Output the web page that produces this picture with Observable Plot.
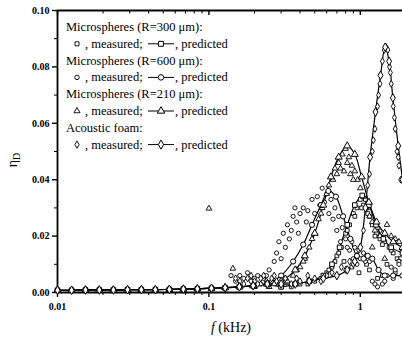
<!DOCTYPE html>
<html><head><meta charset="utf-8">
<script src="https://cdn.jsdelivr.net/npm/d3@7"></script>
<script src="https://cdn.jsdelivr.net/npm/@observablehq/plot@0.6"></script>
<style>body{margin:0;background:#fff} svg{display:block}</style>
</head><body><div id="chart"></div>
<script>
// ---- tick values / labels ----
const xTicks = [0.01, 0.1, 1];
const xTickLabels = ["0.01", "0.1", "1"];
const xMinor = [0.02,0.03,0.04,0.05,0.06,0.07,0.08,0.09,0.2,0.3,0.4,0.5,0.6,0.7,0.8,0.9];
const yTicks = [0, 0.02, 0.04, 0.06, 0.08, 0.10];
const yTickLabels = ["0.00","0.02","0.04","0.06","0.08","0.10"];
const yMinor = [0.01, 0.03, 0.05, 0.07, 0.09];

// ---- legend texts ----
const seriesTitles = ["Microspheres (R=300 \u03bcm):", "Microspheres (R=600 \u03bcm):", "Microspheres (R=210 \u03bcm):", "Acoustic foam:"];
const seriesSymbols = ["square", "circle", "triangle", "diamond"];

// ---- predicted curves (f in kHz, eta) ----
const lowF   = [0.01,0.0124,0.0153,0.0189,0.0234,0.029,0.0358,0.0443,0.0548,0.0678,0.0839,0.104,0.128,0.159,0.196,0.243];
const lowEta = [0.0008,0.0008,0.0009,0.0009,0.0009,0.001,0.001,0.001,0.0011,0.0012,0.0013,0.0015,0.0017,0.002,0.0024,0.003];

const predSquareF   = [0.30,0.372,0.46,0.57,0.65,0.73,0.82,0.92,1.03,1.14,1.27,1.42,1.6,1.9];
const predSquareEta = [0.002,0.003,0.004,0.006,0.010,0.016,0.024,0.031,0.0344,0.031,0.024,0.019,0.016,0.014];

const predCircleF   = [0.30,0.36,0.42,0.48,0.55,0.615,0.69,0.77,0.86,0.95,1.05,1.12,1.2,1.32,1.45,1.65,1.9];
const predCircleEta = [0.006,0.011,0.017,0.024,0.031,0.036,0.034,0.027,0.019,0.013,0.012,0.013,0.012,0.008,0.006,0.006,0.006];

const predTriF   = [0.30,0.372,0.43,0.50,0.57,0.64,0.72,0.82,0.92,1.02,1.14,1.28,1.45,1.65,1.9];
const predTriEta = [0.004,0.008,0.013,0.021,0.031,0.041,0.048,0.052,0.049,0.041,0.032,0.025,0.021,0.018,0.016];

const predFoamF   = [0.30,0.372,0.46,0.57,0.70,0.82,0.92,1.0,1.08,1.16,1.26,1.36,1.46,1.55,1.64,1.78,1.9];
const predFoamEta = [0.003,0.003,0.004,0.005,0.006,0.008,0.011,0.016,0.030,0.048,0.064,0.077,0.087,0.082,0.069,0.052,0.040];

// ---- measured points [f, eta] ----
const measSquare = [[0.3,0.002],[0.35,0.002],[0.4,0.003],[0.45,0.003],[0.5,0.004],[0.55,0.005],[0.6,0.007],[0.65,0.009],[0.7,0.013],[0.75,0.016],[0.8,0.021],[0.85,0.024],[0.9,0.028],[0.95,0.030],[1.0,0.033],[1.05,0.031],[1.1,0.030],[1.15,0.027],[1.2,0.024],[1.28,0.021],[1.35,0.019],[1.45,0.018],[1.55,0.016],[1.65,0.014],[1.75,0.012],[1.85,0.012],[1.15,0.008],[1.3,0.005],[1.5,0.010],[1.7,0.007],[0.78,0.011],[0.88,0.009],[0.98,0.007],
  [0.62,0.008],[0.68,0.011],[0.72,0.014],[0.82,0.022],[0.92,0.027],[1.02,0.030],[1.08,0.033],[1.12,0.028],[1.25,0.020],[1.4,0.017],[1.6,0.015],[1.8,0.011],[1.1,0.010],[1.4,0.006]];
const measCircle = [[0.15,0.004],[0.17,0.005],[0.19,0.004],[0.21,0.006],[0.23,0.005],[0.25,0.008],[0.27,0.011],[0.28,0.014],[0.29,0.018],[0.30,0.012],[0.31,0.021],[0.32,0.016],[0.33,0.024],[0.35,0.022],[0.36,0.027],[0.38,0.025],[0.40,0.028],[0.42,0.030],[0.45,0.029],[0.48,0.033],[0.52,0.034],[0.56,0.037],[0.60,0.035],[0.64,0.033],[0.68,0.030],[0.72,0.027],[0.76,0.023],[0.80,0.019],[0.85,0.015],[0.90,0.012],[0.95,0.010],[1.0,0.012],[1.05,0.014],[1.1,0.013],[1.15,0.011],[1.2,0.004],[1.3,0.002],[1.4,0.003],[1.5,0.006],[1.6,0.009],[1.7,0.008],[1.8,0.010],
  [0.14,0.006],[0.16,0.006],[0.18,0.007],[0.2,0.005],[0.22,0.003],[0.24,0.006],[0.26,0.004],[0.34,0.019],[0.37,0.030],[0.39,0.021],[0.44,0.025],[0.5,0.028],[0.54,0.031],[0.58,0.032],[0.62,0.028],[0.66,0.026],[0.7,0.022],[0.74,0.018],[0.82,0.016],[0.88,0.018],[0.92,0.016],[0.98,0.015],[1.08,0.011],[1.25,0.003],[1.45,0.004],[1.65,0.005]];
const measTri = [[0.1,0.0298],[0.144,0.0085],[0.2,0.002],[0.25,0.002],[0.3,0.003],[0.33,0.004],[0.36,0.006],[0.4,0.009],[0.43,0.012],[0.46,0.016],[0.5,0.021],[0.53,0.026],[0.56,0.030],[0.6,0.035],[0.64,0.041],[0.68,0.044],[0.72,0.046],[0.76,0.049],[0.8,0.051],[0.84,0.048],[0.88,0.045],[0.92,0.043],[0.96,0.040],[1.0,0.037],[1.05,0.034],[1.1,0.030],[1.15,0.027],[1.2,0.025],[1.3,0.023],[1.4,0.021],[1.5,0.024],[1.6,0.020],[1.7,0.019],[1.8,0.018],[1.2,0.016],[1.45,0.012],
  [0.22,0.003],[0.27,0.003],[0.32,0.005],[0.38,0.008],[0.42,0.011],[0.48,0.019],[0.55,0.028],[0.62,0.038],[0.66,0.040],[0.7,0.042],[0.74,0.044],[0.78,0.043],[0.82,0.046],[0.86,0.042],[0.9,0.040],[1.25,0.022],[1.35,0.020]];
const measFoam = [[0.15,0.005],[0.16,0.004],[0.18,0.005],[0.2,0.004],[0.22,0.005],[0.24,0.004],[0.26,0.005],[0.28,0.004],[0.3,0.003],[0.35,0.003],[0.4,0.004],[0.5,0.005],[0.6,0.006],[0.7,0.006],[0.8,0.008],[0.9,0.010],[1.0,0.016],[1.05,0.022],[1.1,0.030],[1.15,0.042],[1.2,0.05],[1.25,0.058],[1.3,0.066],[1.35,0.074],[1.4,0.082],[1.44,0.086],[1.48,0.087],[1.52,0.086],[1.56,0.080],[1.6,0.074],[1.65,0.066],[1.7,0.058],[1.75,0.050],[1.8,0.045],[1.85,0.040],
  [0.17,0.003],[0.19,0.006],[0.21,0.003],[0.23,0.006],[0.25,0.003],[0.27,0.006],[0.32,0.005],[0.38,0.005],[0.45,0.006],[0.55,0.004],[0.65,0.007],[0.75,0.009],[0.85,0.011],[0.95,0.013],[1.12,0.038],[1.22,0.054],[1.32,0.070],[1.58,0.078],[1.68,0.062],[1.78,0.048]];

// build tables
const toRows = (fs, es) => lowF.concat(fs).map((f, i) => ({f, eta: lowEta.concat(es)[i]}));
const preds = [
  {sym: "square", rows: toRows(predSquareF, predSquareEta), meas: measSquare},
  {sym: "circle", rows: toRows(predCircleF, predCircleEta), meas: measCircle},
  {sym: "triangle", rows: toRows(predTriF, predTriEta), meas: measTri},
  {sym: "diamond", rows: toRows(predFoamF, predFoamEta), meas: measFoam}
];

const marks = [
  Plot.axisX({ticks: xTicks, tickFormat: d => xTickLabels[xTicks.indexOf(d)], tickSize: 5, tickPadding: 5, fontSize: 10, fontWeight: "bold", label: null, strokeWidth: 1.4}),
  Plot.axisX({ticks: xMinor, tickSize: 3, tickFormat: () => "", label: null}),
  Plot.axisX({anchor: "top", ticks: xTicks, tickSize: -4, tickFormat: () => "", label: null, strokeWidth: 1.4}),
  Plot.axisX({anchor: "top", ticks: xMinor, tickSize: -2.5, tickFormat: () => "", label: null}),
  Plot.axisY({ticks: yTicks, tickFormat: d => yTickLabels[yTicks.indexOf(d)], tickSize: 5, tickPadding: 3, fontSize: 10, fontWeight: "bold", label: null, strokeWidth: 1.4}),
  Plot.axisY({ticks: yMinor, tickSize: 3, tickFormat: () => "", label: null}),
  Plot.ruleX([0.01], {strokeWidth: 1.8}),
  Plot.ruleY([0], {strokeWidth: 1.8}),
  Plot.ruleY([0.1], {strokeWidth: 1.8})
];
for (const p of preds) {
  marks.push(Plot.line(p.rows, {x: "f", y: "eta", curve: "catmull-rom", stroke: "black", strokeWidth: 1.2, clip: true}));
}
for (const p of preds) {
  marks.push(Plot.dot(p.meas, {x: d => d[0], y: d => d[1], symbol: p.sym, r: 2.1, stroke: "black", fill: "white", strokeWidth: 0.9}));
}
for (const p of preds) {
  marks.push(Plot.dot(p.rows, {x: "f", y: "eta", symbol: p.sym, r: 2.6, stroke: "black", fill: "white", strokeWidth: 1}));
}

const chart = Plot.plot({
  width: 402, height: 339,
  marginLeft: 57, marginRight: 0, marginTop: 10, marginBottom: 47,
  style: {fontFamily: "'Liberation Serif', 'Times New Roman', serif", background: "#fff", color: "black"},
  x: {type: "log", domain: [0.01, 1.9]},
  y: {domain: [0, 0.1]},
  marks
});
document.getElementById("chart").append(chart);

// ---- legend, axis labels ----
const svg = d3.select(chart);
const g = svg.append("g").attr("font-family", "'Liberation Serif', 'Times New Roman', serif").attr("font-size", 12.5).attr("fill", "black").attr("text-anchor", "start");
const symMap = {square: d3.symbolSquare, circle: d3.symbolCircle, triangle: d3.symbolTriangle, diamond: d3.symbolDiamond};
const rowH = 16.8, y0 = 31;
seriesTitles.forEach((t, i) => {
  const yA = y0 + rowH * 2 * i, yB = yA + rowH;
  g.append("text").attr("x", 66).attr("y", yA).text(t);
  const sym = symMap[seriesSymbols[i]];
  g.append("path").attr("d", d3.symbol(sym, 16)()).attr("transform", `translate(77,${yB - 4})`).attr("fill", "white").attr("stroke", "black").attr("stroke-width", 0.9);
  g.append("text").attr("x", 85).attr("y", yB).text(", measured;");
  g.append("line").attr("x1", 148).attr("x2", 174).attr("y1", yB - 4).attr("y2", yB - 4).attr("stroke", "black").attr("stroke-width", 1);
  g.append("path").attr("d", d3.symbol(sym, 24)()).attr("transform", `translate(161,${yB - 4})`).attr("fill", "white").attr("stroke", "black").attr("stroke-width", 1);
  g.append("text").attr("x", 175).attr("y", yB).text(", predicted");
});
// y label
const yl = svg.append("text").attr("transform", "translate(17,160) rotate(-90)").attr("text-anchor", "middle")
  .attr("font-family", "'Liberation Serif', serif").attr("font-size", 14);
yl.append("tspan").text("\u03b7");
yl.append("tspan").attr("font-size", 10).attr("dy", 3).text("D");
// x label
const xl = svg.append("text").attr("x", 231).attr("y", 332).attr("text-anchor", "middle")
  .attr("font-family", "'Liberation Serif', serif").attr("font-size", 14);
xl.append("tspan").attr("font-style", "italic").text("f");
xl.append("tspan").text(" (kHz)");
</script>
</body></html>
